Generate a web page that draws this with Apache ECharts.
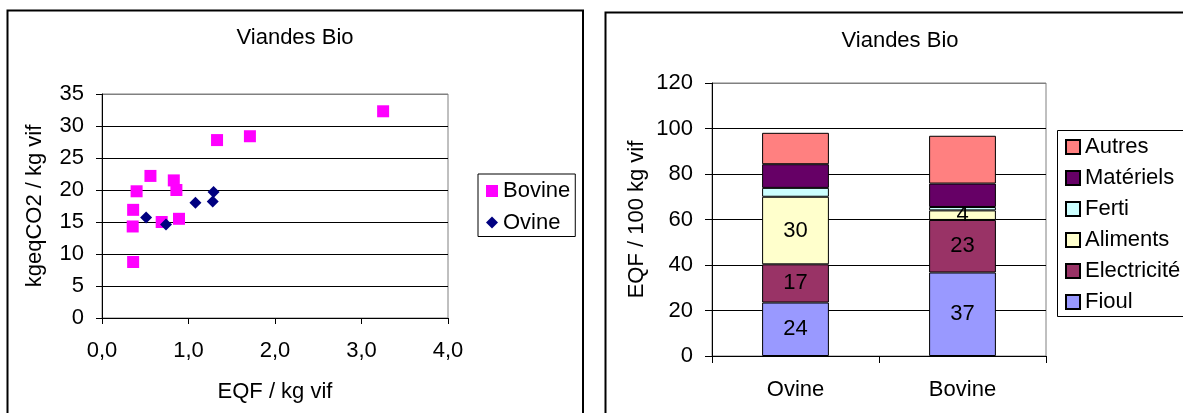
<!DOCTYPE html>
<html>
<head>
<meta charset="utf-8">
<script src="https://cdn.jsdelivr.net/npm/echarts@6/dist/echarts.min.js"></script>
<style>
html,body{margin:0;padding:0;background:#fff;}
#chart{width:1183px;height:413px;}
</style>
</head>
<body>
<div id="chart"></div>
<script>
// ---- Data ----
var chartTitle = 'Viandes Bio';

// Scatter: EQF / kg vif (x) vs kgeqCO2 / kg vif (y)
var bovineX = [3.25, 1.71, 1.33, 0.56, 0.83, 0.86, 0.40, 0.36, 0.355, 0.69, 0.89, 0.36];
var bovineY = [32.3, 28.4, 27.8, 22.2, 21.5, 20.0, 19.8, 16.9, 14.3, 15.0, 15.5, 8.75];
var ovineX  = [0.51, 0.74, 1.08, 1.29, 1.28];
var ovineY  = [15.7, 14.6, 18.0, 19.7, 18.2];

// Stacked bars: EQF / 100 kg vif
var barCategories = ['Ovine', 'Bovine'];
var fioul       = [23.5, 36.7];
var electricite = [16.8, 23.1];
var aliments    = [29.7, 4.2];
var ferti       = [3.9, 1.5];
var materiels   = [10.4, 10.3];
var autres      = [13.8, 21.0];
var legendOrder = ['Autres', 'Matériels', 'Ferti', 'Aliments', 'Electricité', 'Fioul'];

// ---- Chart ----
function zip(a, b) { return a.map(function (v, i) { return [v, b[i]]; }); }
var FONT = 'Liberation Sans, Arial, sans-serif';
var FS = 22;
var txt = { color: '#000', fontFamily: FONT, fontSize: FS };

var chart = echarts.init(document.getElementById('chart'));

function barSeries(name, data, color, showLabel) {
  return {
    name: name, type: 'bar', stack: 'total', xAxisIndex: 1, yAxisIndex: 1,
    data: data, barWidth: '40%',
    itemStyle: { color: color, borderColor: '#000', borderWidth: 1 },
    label: {
      show: showLabel, position: 'inside', color: '#000', fontFamily: FONT, fontSize: FS,
      formatter: function (p) { return Math.round(p.value); }
    },
    emphasis: { disabled: true }
  };
}

var option = {
  animation: false,
  backgroundColor: '#fff',
  textStyle: { fontFamily: FONT },
  graphic: [
    { type: 'rect', shape: { x: 7.5, y: 10.5, width: 575.5, height: 420 },
      style: { fill: 'none', stroke: '#000', lineWidth: 2 }, silent: true },
    { type: 'rect', shape: { x: 605.5, y: 12.5, width: 590, height: 420 },
      style: { fill: 'none', stroke: '#000', lineWidth: 2 }, silent: true },
    // frame of the right-hand legend (it runs past the picture's right edge)
    { type: 'rect', shape: { x: 1057.5, y: 130.5, width: 140, height: 186 },
      style: { fill: 'none', stroke: '#000', lineWidth: 1 }, silent: true }
  ],
  title: [
    { text: chartTitle, left: 295, top: 27, textAlign: 'center', padding: 0,
      textStyle: { color: '#000', fontFamily: FONT, fontSize: FS, fontWeight: 'normal' } },
    { text: chartTitle, left: 900, top: 30, textAlign: 'center', padding: 0,
      textStyle: { color: '#000', fontFamily: FONT, fontSize: FS, fontWeight: 'normal' } }
  ],
  legend: [
    { orient: 'vertical', left: 478, top: 174, data: ['Bovine', 'Ovine'],
      itemWidth: 12, itemHeight: 12, itemGap: 9.5,
      padding: [6, 5, 3, 8], borderColor: '#000', borderWidth: 1,
      textStyle: txt, selectedMode: false },
    { orient: 'vertical', left: 1057, top: 131,
      data: legendOrder.map(function (n) { return { name: n, icon: 'rect' }; }),
      itemWidth: 14, itemHeight: 14, itemGap: 9,
      padding: [5, 2, 5, 8], borderWidth: 0,
      textStyle: txt, selectedMode: false }
  ],
  grid: [
    { left: 102, top: 94, width: 346, height: 224, show: true,
      borderColor: '#808080', borderWidth: 1, backgroundColor: 'transparent' },
    { left: 712, top: 83, width: 334, height: 273, show: true,
      borderColor: '#808080', borderWidth: 1, backgroundColor: 'transparent' }
  ],
  xAxis: [
    { type: 'value', gridIndex: 0, min: 0, max: 4, interval: 1,
      name: 'EQF / kg vif', nameLocation: 'middle', nameGap: 63, nameTextStyle: txt,
      axisLine: { show: true, lineStyle: { color: '#000', width: 1 } },
      axisTick: { show: true, inside: false, length: 6, lineStyle: { color: '#000' } },
      axisLabel: { color: '#000', fontFamily: FONT, fontSize: FS, margin: 22,
        formatter: function (v) { return v.toFixed(1).replace('.', ','); } },
      splitLine: { show: false } },
    { type: 'category', gridIndex: 1, data: barCategories,
      axisLine: { show: true, lineStyle: { color: '#000', width: 1 } },
      axisTick: { show: true, inside: false, length: 7, alignWithLabel: false, lineStyle: { color: '#000' } },
      axisLabel: { color: '#000', fontFamily: FONT, fontSize: FS, margin: 23 },
      splitLine: { show: false } }
  ],
  yAxis: [
    { type: 'value', gridIndex: 0, min: 0, max: 35, interval: 5,
      name: 'kgeqCO2 / kg vif', nameLocation: 'middle', nameGap: 56, nameTextStyle: txt,
      axisLine: { show: true, lineStyle: { color: '#000', width: 1 } },
      axisTick: { show: true, inside: false, length: 6, lineStyle: { color: '#000' } },
      axisLabel: { color: '#000', fontFamily: FONT, fontSize: FS, margin: 18 },
      splitLine: { show: true, lineStyle: { color: ['#000', '#000', '#000', '#000', '#000', '#000', '#000', '#808080'], width: 1 } } },
    { type: 'value', gridIndex: 1, min: 0, max: 120, interval: 20,
      name: 'EQF / 100 kg vif', nameLocation: 'middle', nameGap: 64, nameTextStyle: txt,
      axisLine: { show: true, lineStyle: { color: '#000', width: 1 } },
      axisTick: { show: true, inside: false, length: 7, lineStyle: { color: '#000' } },
      axisLabel: { color: '#000', fontFamily: FONT, fontSize: FS, margin: 19 },
      splitLine: { show: true, lineStyle: { color: ['#000', '#000', '#000', '#000', '#000', '#000', '#808080'], width: 1 } } }
  ],
  series: [
    { name: 'Bovine', type: 'scatter', xAxisIndex: 0, yAxisIndex: 0,
      symbol: 'rect', symbolSize: 12, data: zip(bovineX, bovineY),
      itemStyle: { color: '#FF00FF', opacity: 1 }, emphasis: { disabled: true } },
    { name: 'Ovine', type: 'scatter', xAxisIndex: 0, yAxisIndex: 0,
      symbol: 'diamond', symbolSize: 12, data: zip(ovineX, ovineY),
      itemStyle: { color: '#000080', opacity: 1 }, emphasis: { disabled: true } },
    barSeries('Fioul', fioul, '#9999FF', true),
    barSeries('Electricité', electricite, '#993366', true),
    barSeries('Aliments', aliments, '#FFFFCC', true),
    barSeries('Ferti', ferti, '#CCFFFF', false),
    barSeries('Matériels', materiels, '#660066', false),
    barSeries('Autres', autres, '#FF8080', false)
  ]
};
chart.setOption(option);
</script>
</body>
</html>
